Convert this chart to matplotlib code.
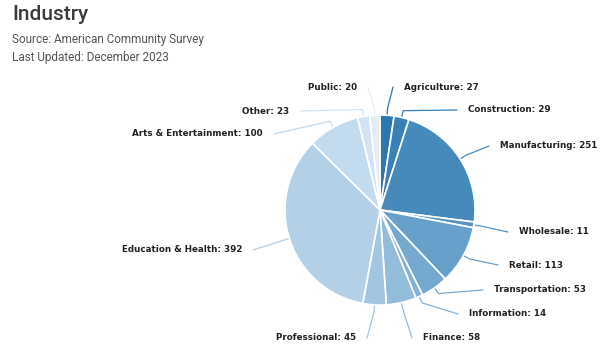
import matplotlib
matplotlib.use("Agg")
import matplotlib.pyplot as plt
import numpy as np

categories = ["Agriculture", "Construction", "Manufacturing", "Wholesale", "Retail",
              "Transportation", "Information", "Finance", "Professional",
              "Education & Health", "Arts & Entertainment", "Other", "Public"]
values = [27, 29, 251, 11, 113, 53, 14, 58, 45, 392, 100, 23, 20]
colors = ["#2c76b1", "#3a80b8", "#4689bb", "#5894c2", "#67a0ca", "#76a9cf",
          "#85b2d5", "#93bcdb", "#a2c6e0", "#b4d0e6", "#c3dbee", "#d2e4f3", "#e1edf8"]

# label layout (pixel coords, y from top): (x, y, side)
label_pos = [(404, 87, 1), (468, 110, 1), (500, 146, 1), (519, 232, 1), (509, 265, 1),
             (494, 290, 1), (469, 314, 1), (423, 338, 1), (356, 338, -1),
             (242, 250, -1), (263, 134, -1), (289, 111, -1), (357, 87, -1)]

W, H = 607, 360
fig = plt.figure(figsize=(W / 100, H / 100), dpi=100)
ax = fig.add_axes([0, 0, 1, 1])

cx, cy, r = 380, H - 210, 95
wedges, _ = ax.pie(values, colors=colors, startangle=90, counterclock=False,
                   center=(cx, cy), radius=r, frame=True,
                   wedgeprops=dict(edgecolor="white", linewidth=1.2))
ax.set_xlim(0, W)
ax.set_ylim(0, H)
ax.set_aspect("equal")
ax.axis("off")

for w, cat, val, col, (lx, ly, side) in zip(wedges, categories, values, colors, label_pos):
    ang = np.deg2rad((w.theta1 + w.theta2) / 2)
    d = np.array([np.cos(ang), np.sin(ang)])
    p0 = np.array([cx, cy]) + r * d
    p1 = np.array([cx, cy]) + (r + 7) * d
    ly_d = H - ly
    p2 = np.array([lx - side * 11, ly_d])
    ax.plot([p0[0], p1[0], p2[0]], [p0[1], p1[1], p2[1]], color=col, lw=0.9,
            solid_capstyle="round", zorder=0)
    ax.text(lx, ly_d, f"{cat}: {val}", ha="left" if side > 0 else "right",
            va="center", fontsize=6.3, fontweight="bold", color="#222222",
            family="DejaVu Sans")

fig.text(12 / W, 1 - 15 / H, "Industry", fontsize=15, fontweight="medium",
         family="Roboto", color="#3a3a3a", va="center", ha="left")
fig.text(12 / W, 1 - 39 / H, "Source: American Community Survey", fontsize=8.5,
         family="Roboto", color="#555555", va="center", ha="left")
fig.text(12 / W, 1 - 57 / H, "Last Updated: December 2023", fontsize=8.5,
         family="Roboto", color="#555555", va="center", ha="left")

fig.savefig("out.png", dpi=100)
